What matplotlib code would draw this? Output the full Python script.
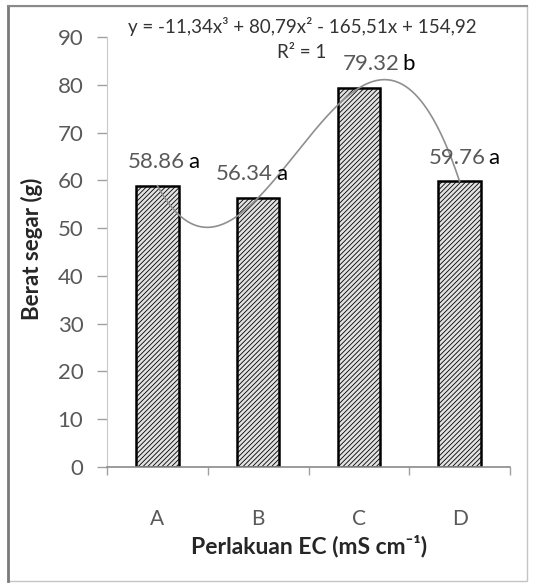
import numpy as np
import matplotlib
matplotlib.use("Agg")
import matplotlib.pyplot as plt
from matplotlib.patches import Rectangle
from matplotlib.lines import Line2D

plt.rcParams['font.family'] = ['Lato', 'DejaVu Sans']
plt.rcParams['hatch.linewidth'] = 0.6
plt.rcParams['hatch.color'] = '#777777'

categories = ['A', 'B', 'C', 'D']
values = [58.86, 56.34, 79.32, 59.76]
letters = ['a', 'a', 'b', 'a']
yticks = [0, 10, 20, 30, 40, 50, 60, 70, 80, 90]
poly_coef = [-11.34, 80.79, -165.51, 154.92]   # cubic trendline shown on chart
equation = "y = -11,34x³ + 80,79x² - 165,51x + 154,92"
r2_text = "R² = 1"
xlabel = "Perlakuan EC (mS cm⁻¹)"
ylabel = "Berat segar (g)"

W, H = 534, 587
fig = plt.figure(figsize=(W / 100, H / 100), dpi=100)
fig.patch.set_facecolor('white')

# outer frame
fig.add_artist(Rectangle((8 / W, 1 - 581 / H), (527 - 8) / W, (581 - 6) / H,
                         transform=fig.transFigure, fill=False,
                         edgecolor='#c4c4c4', linewidth=1.0))
fig.add_artist(Line2D([8 / W, 8 / W], [1 - 581 / H, 1 - 6 / H], transform=fig.transFigure,
                      color='#7a7a7a', linewidth=2.0))
fig.add_artist(Line2D([8 / W, 527 / W], [1 - 6 / H, 1 - 6 / H], transform=fig.transFigure,
                      color='#8a8a8a', linewidth=1.5))

ax = fig.add_axes([107 / W, 1 - 467 / H, (510 - 107) / W, (467 - 37) / H])

x = np.arange(1, len(categories) + 1)
ax.bar(x, values, width=0.42, facecolor='#e2e2e2', edgecolor='black',
       linewidth=1.8, hatch='///////', zorder=2)

# cubic trendline
xs = np.linspace(1, 4, 300)
ax.plot(xs, np.polyval(poly_coef, xs), color='#8f8f8f', linewidth=1.2, zorder=3)

# value labels + letters (number right edge offset from bar centre, px)
num_right = [28, 15, 41, 26]
for xi, v, l, r in zip(x, values, letters, num_right):
    ax.annotate(f"{v:.2f}", (xi, v), xytext=(r * 0.72, 10), textcoords='offset points',
                ha='right', va='bottom', fontsize=16, color='#595959', zorder=4)
    ax.annotate(l, (xi, v), xytext=((r + 3) * 0.72, 10), textcoords='offset points',
                ha='left', va='bottom', fontsize=16, color='black', zorder=4)

ax.set_xlim(0.5, 4.5)
ax.set_ylim(0, 90)
ax.set_yticks(yticks)
ax.set_xticks(x)
ax.set_xticklabels(categories)
ax.set_xticks([0.5, 1.5, 2.5, 3.5, 4.5], minor=True)
ax.tick_params(axis='x', which='major', length=0, pad=30, labelsize=15, labelcolor='#595959')
ax.tick_params(axis='x', which='minor', length=6, color='#a0a0a0', width=1)
ax.tick_params(axis='y', length=7, color='#a0a0a0', width=1, pad=10,
               labelsize=16, labelcolor='#595959')

for side in ['top', 'right']:
    ax.spines[side].set_visible(False)
ax.spines['left'].set_color('#c8c8c8')
ax.spines['bottom'].set_color('#8a8a8a')
ax.spines['bottom'].set_linewidth(1.2)

fig.text(302 / W, 1 - 26 / H, equation, ha='center', va='center', fontsize=13.5, color='#333333')
fig.text(302 / W, 1 - 52 / H, r2_text, ha='center', va='center', fontsize=13.5, color='#333333')

fig.text(309 / W, 1 - 546 / H, xlabel, ha='center', va='center', fontsize=16.5,
         fontweight='bold', color='#262626', family=['Lato', 'DejaVu Sans'])
fig.text(32 / W, 1 - 249 / H, ylabel, ha='center', va='center', rotation=90,
         fontsize=16, fontweight='bold', color='#262626')

fig.savefig('out.png', dpi=100)
